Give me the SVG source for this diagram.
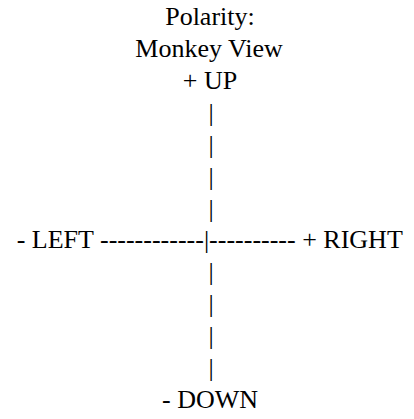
<svg xmlns="http://www.w3.org/2000/svg" width="414" height="419" viewBox="0 0 414 419">
<rect width="414" height="419" fill="#ffffff"/>
<g id="title">
<text x="165.2" y="25" font-size="26" font-family="Liberation Serif">Polarity:</text>
<text x="135.3" y="57" font-size="26" font-family="Liberation Serif">Monkey View</text>
</g>
<g id="up"><text x="182.8" y="89" font-size="26" font-family="Liberation Serif">+ UP</text></g>
<g id="axis">
<text x="208.4" y="121" font-size="26" font-family="Liberation Serif">|</text>
<text x="208.4" y="153" font-size="26" font-family="Liberation Serif">|</text>
<text x="208.4" y="185" font-size="26" font-family="Liberation Serif">|</text>
<text x="208.4" y="217" font-size="26" font-family="Liberation Serif">|</text>
<text x="208.4" y="280" font-size="26" font-family="Liberation Serif">|</text>
<text x="208.4" y="312" font-size="26" font-family="Liberation Serif">|</text>
<text x="208.4" y="344" font-size="26" font-family="Liberation Serif">|</text>
<text x="208.4" y="376" font-size="26" font-family="Liberation Serif">|</text>
</g>
<g id="horizontal"><text x="16.7" y="248" font-size="26" font-family="Liberation Serif">- LEFT ------------|---------- + RIGHT</text></g>
<g id="down"><text x="162" y="408" font-size="26" font-family="Liberation Serif">- DOWN</text></g>
</svg>
